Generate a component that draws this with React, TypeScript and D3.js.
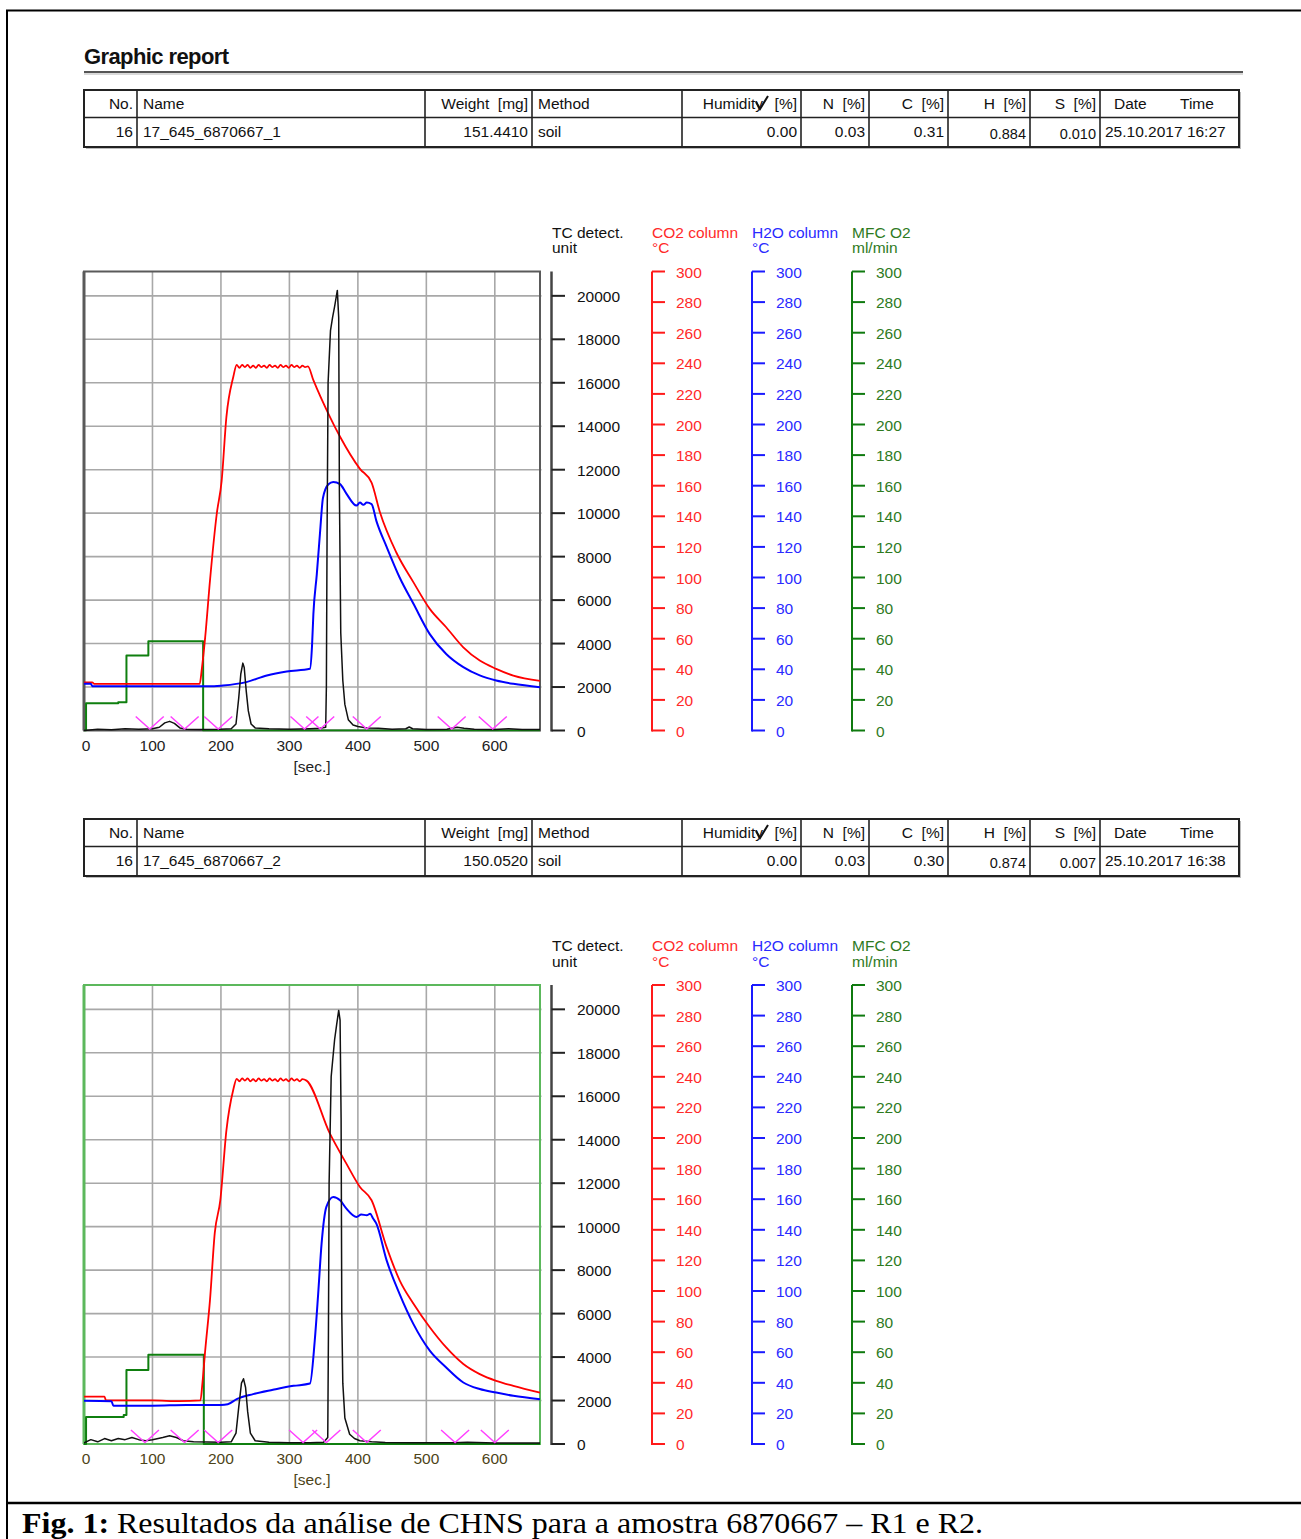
import React from "react";
import * as d3 from "d3";

type Pt = [number, number];

// ---------- axis tick labels ----------
const TIME_TICKS = [0, 100, 200, 300, 400, 500, 600];
const TC_TICKS = [0, 2000, 4000, 6000, 8000, 10000, 12000, 14000, 16000, 18000, 20000];
const TEMP_TICKS = [0, 20, 40, 60, 80, 100, 120, 140, 160, 180, 200, 220, 240, 260, 280, 300];

// ---------- table ----------
const TABLE_HEADERS = ["No.", "Name", "Weight [mg]", "Method", "Humidity", "N [%]", "C [%]", "H [%]", "S [%]", "Date"];
const RUN1_ROW = ["16", "17_645_6870667_1", "151.4410", "soil", "0.00", "0.03", "0.31", "0.884", "0.010", "25.10.2017 16:27"];
const RUN2_ROW = ["16", "17_645_6870667_2", "150.0520", "soil", "0.00", "0.03", "0.30", "0.874", "0.007", "25.10.2017 16:38"];

// ---------- run 1 series (time s, value) ----------
const RUN1_TC: Pt[] = [
  [0, 0], [20, 60], [40, 40], [60, 80], [80, 60], [100, 80], [110, 150], [118, 350], [125, 420], [132, 330], [140, 120],
  [150, 60], [170, 50], [200, 60], [215, 80], [222, 300], [226, 1500], [229, 2600], [232, 3100], [234, 2900], [237, 1800],
  [240, 900], [244, 300], [250, 120], [270, 80], [300, 60], [330, 80], [345, 100], [353, 150], [354, 2000], [355, 9000],
  [356.5, 16000], [360, 18400], [363, 19000], [366, 19500], [370, 20250], [372, 19000], [373, 11000], [375, 4500],
  [378, 2300], [381, 1200], [386, 500], [393, 250], [400, 180], [413, 120], [430, 100], [450, 60], [470, 80], [475, 160],
  [480, 80], [500, 50], [530, 60], [545, 150], [555, 100], [570, 60], [600, 50], [620, 80], [640, 50], [666, 50],
];
const RUN1_CO2: Pt[] = [
  [0, 31.5], [12, 31.5], [15, 30.5], [60, 30.5], [120, 30.5], [169, 30.5], [172, 40], [177, 61], [184, 98], [194, 142],
  [201, 163], [208, 205], [218, 231], [223, 239], [227, 237], [231, 239], [235, 237.5], [239, 239], [243, 237], [247, 238.5],
  [251, 237], [255, 239], [259, 237.5], [263, 238.5], [267, 237], [271, 239], [275, 237.5], [279, 238.5], [283, 237],
  [287, 239], [291, 237.5], [295, 238.5], [299, 237], [303, 239], [307, 237.5], [311, 238.5], [315, 237], [319, 238.5],
  [323, 237.5], [327, 238], [335, 229], [357, 207], [374, 192], [403, 171], [420, 162], [432, 143], [456, 116.5],
  [481, 97], [505, 79.5], [529, 67.5], [554, 54.4], [578, 45.7], [602, 40.3], [627, 35.9], [666, 32.5],
];
const RUN1_H2O: Pt[] = [
  [0, 30.5], [10, 30.5], [12, 29], [100, 29], [190, 29], [203, 29.4], [237, 31.6], [267, 36], [296, 38.6], [330, 40.3],
  [333, 55], [335, 76], [340, 102], [345, 131], [349, 152], [357, 161], [364, 162.5], [374, 161], [383, 155], [398, 147],
  [403, 149], [408, 147.5], [413, 149], [420, 148], [427, 137], [442, 120], [461, 100], [481, 83], [505, 63], [529, 50],
  [554, 41.4], [578, 36], [602, 32.7], [627, 30.5], [666, 28.3],
];
const RUN1_MFC: Pt[] = [
  [0, 0], [3, 0], [3, 17.8], [50, 17.8], [50, 18.5], [62, 18.5], [62, 49], [94, 49], [94, 58.4], [174, 58.4], [174, 0], [666, 0],
];
const RUN1_MARKS = [96, 147, 196, 322, 345, 413, 537, 597];

// ---------- run 2 series ----------
const RUN2_TC: Pt[] = [
  [0, 50], [10, 200], [20, 100], [30, 250], [40, 150], [50, 250], [60, 200], [70, 300], [80, 200], [90, 150], [100, 200],
  [115, 300], [125, 380], [135, 300], [145, 150], [160, 100], [200, 80], [215, 100], [222, 500], [226, 1700], [230, 2800],
  [233, 3000], [236, 2600], [239, 1500], [243, 500], [250, 150], [270, 80], [300, 60], [330, 60], [350, 80], [356, 300],
  [357, 5000], [358, 12000], [361, 16900], [366, 18600], [369, 19300], [372, 19950], [374, 19500], [375.5, 15000],
  [376.5, 6000], [378, 2800], [381, 1200], [388, 450], [395, 250], [403, 150], [420, 100], [440, 70], [480, 60],
  [540, 60], [560, 80], [600, 50], [666, 50],
];
const RUN2_CO2: Pt[] = [
  [0, 31], [30, 31], [32, 28.5], [60, 28.5], [100, 28.5], [140, 28], [170, 28.5], [173, 40], [177, 61], [184, 94],
  [191, 138], [199, 159], [208, 205], [218, 231.5], [223, 238.7], [227, 237], [231, 239], [235, 237.5], [239, 239],
  [243, 237], [247, 238.5], [251, 237], [255, 239], [259, 237.5], [263, 238.5], [267, 237], [271, 239], [275, 237.5],
  [279, 238.5], [283, 237], [287, 239], [291, 237.5], [295, 238.5], [299, 237], [303, 239], [307, 237.5], [311, 238.5],
  [315, 237], [319, 238.5], [325, 237.5], [359, 203], [383, 183.4], [403, 168], [420, 159.3], [442, 128.7], [461, 107],
  [481, 91.8], [505, 76.3], [529, 63.1], [554, 52.3], [578, 45.7], [602, 41.3], [627, 38], [666, 33.6],
];
const RUN2_H2O: Pt[] = [
  [0, 28.2], [40, 28], [43, 25], [100, 25], [150, 25.5], [200, 25.5], [210, 26], [223, 29.3], [247, 32.6], [276, 35.4],
  [306, 38], [330, 39.5], [337, 67.5], [342, 98], [347, 131], [354, 155], [364, 161.5], [374, 159.3], [383, 154],
  [398, 148.4], [405, 150], [413, 149.5], [418, 150.5], [422, 147.5], [427, 144], [442, 120], [461, 98], [481, 78.5],
  [505, 61], [529, 50], [554, 40.2], [578, 35.9], [602, 33.6], [627, 31.5], [666, 29.3],
];
const RUN2_MFC: Pt[] = [
  [0, 0], [3, 0], [3, 17.7], [58, 17.7], [58, 19], [62, 19], [62, 48.3], [94, 48.3], [94, 58.4], [175, 58.4], [175, 0], [666, 0],
];
const RUN2_MARKS = [89, 147, 196, 320, 354, 413, 542, 600];

const SANS = "'Liberation Sans', Arial, sans-serif";

const COLS = [84, 137, 425, 532, 682, 801, 869, 948, 1030, 1100, 1239];
const ALIGN = ["end", "start", "end", "start", "end", "end", "end", "end", "end", "start"];

function Table({ y0, row }: { y0: number; row: string[] }) {
  const top = y0, mid = y0 + 27.5, bot = y0 + 57;
  const tx = (i: number) => (ALIGN[i] === "end" ? COLS[i + 1] - 4 : COLS[i] + 6);
  return (
    <g fontFamily={SANS} fontSize={15.5} fill="#111">
      <rect x={COLS[0] + 2} y={top + 2} width={COLS[10] - COLS[0]} height={bot - top} fill="#bbb" />
      <rect x={COLS[0]} y={top} width={COLS[10] - COLS[0]} height={bot - top} fill="#fff" stroke="#222" strokeWidth={2} />
      <line x1={COLS[0]} x2={COLS[10]} y1={mid} y2={mid} stroke="#222" strokeWidth={1.6} />
      {COLS.slice(1, 10).map((c, i) => (
        <line key={i} x1={c} x2={c} y1={top} y2={bot} stroke="#222" strokeWidth={1.6} />
      ))}
      {TABLE_HEADERS.map((h, i) =>
        i === 4 ? (
          <g key={i}>
            <text x={763} y={top + 19} textAnchor="end">{h}</text>
            <path d={`M756,${top + 12} L760,${top + 19} L768,${top + 6}`} fill="none" stroke="#111" strokeWidth={2} />
            <text x={tx(i)} y={top + 19} textAnchor="end">[%]</text>
          </g>
        ) : i === 9 ? (
          <g key={i}>
            <text x={1114} y={top + 19}>Date</text>
            <text x={1180} y={top + 19}>Time</text>
          </g>
        ) : (
          <text key={i} x={tx(i)} y={top + 19} textAnchor={ALIGN[i] as any} style={{ whiteSpace: "pre" }}>
            {h.replace(" [", "  [")}
          </text>
        )
      )}
      {row.map((v, i) => (
        <text key={i} x={i === 9 ? COLS[9] + 5 : tx(i)} y={mid + (i === 7 || i === 8 ? 21 : 19.5)}
          textAnchor={i === 9 ? "start" : (ALIGN[i] as any)} fontSize={i === 7 || i === 8 ? 14.5 : 15.5}>
          {v}
        </text>
      ))}
    </g>
  );
}

type ChartProps = {
  dy: number; tc: Pt[]; co2: Pt[]; h2o: Pt[]; mfc: Pt[]; marks: number[];
  border: string; xLabelColor: string; id: string;
};

function Chart({ dy, tc, co2, h2o, mfc, marks, border, xLabelColor, id }: ChartProps) {
  const left = 84, right = 540, top = 271.5 + dy, bottom = 730.5 + dy;
  const x = d3.scaleLinear().domain([0, 666]).range([left, right]);
  const yTC = d3.scaleLinear().domain([0, 21120]).range([bottom, top]);
  const yT = d3.scaleLinear().domain([0, 300]).range([bottom, top]);
  const lineTC = d3.line<Pt>().x((d) => x(d[0])).y((d) => yTC(d[1]));
  const lineStep = d3.line<Pt>().x((d) => x(d[0])).y((d) => yT(d[1]));
  const lineT = d3.line<Pt>().x((d) => x(d[0])).y((d) => yT(d[1])).curve(d3.curveMonotoneX);

  const tempAxes = [
    { x0: 652, color: "#ff1a1a", text: "#ff2a2a", t1: "CO2 column", t2: "°C" },
    { x0: 752, color: "#1a1aff", text: "#2a2aff", t1: "H2O column", t2: "°C" },
    { x0: 852, color: "#0f7a0f", text: "#2e7a1e", t1: "MFC O2", t2: "ml/min" },
  ];

  return (
    <g>
      <defs>
        <clipPath id={id}>
          <rect x={left} y={top - 2} width={right - left + 1} height={bottom - top + 3} />
        </clipPath>
      </defs>
      <rect x={left} y={top} width={right - left} height={bottom - top} fill="#fff" />
      {/* grid */}
      {TIME_TICKS.slice(1).map((t) => (
        <line key={"v" + t} x1={x(t)} x2={x(t)} y1={top} y2={bottom} stroke="#a8a8a8" strokeWidth={1.6} />
      ))}
      {TC_TICKS.slice(1).map((t) => (
        <line key={"h" + t} x1={left} x2={right + 1.5} y1={yTC(t)} y2={yTC(t)} stroke="#a8a8a8" strokeWidth={1.6} />
      ))}
      <rect x={left} y={top} width={right - left} height={bottom - top} fill="none" stroke={border} strokeWidth={2} />
      <line x1={left} x2={left} y1={top} y2={bottom} stroke={border} strokeWidth={3} />
      <g clipPath={`url(#${id})`} fill="none" strokeLinejoin="round">
        <path d={lineStep(mfc) || ""} stroke="#0f7f0f" strokeWidth={2} />
        <path d={lineT(co2) || ""} stroke="#ff0000" strokeWidth={1.8} />
        <path d={lineT(h2o) || ""} stroke="#0000ff" strokeWidth={2} />
        <path d={lineTC(tc) || ""} stroke="#111" strokeWidth={1.5} />
      </g>
      {marks.map((m, i) => (
        <path key={i} d={`M${x(m) - 14},${bottom - 14}L${x(m)},${bottom - 1.5}L${x(m) + 14},${bottom - 14}`}
          fill="none" stroke="#ff40ff" strokeWidth={1.5} />
      ))}
      {/* x axis labels */}
      <g fontFamily={SANS} fontSize={15.5} fill={xLabelColor} textAnchor="middle">
        {TIME_TICKS.map((t) => (
          <text key={t} x={t === 0 ? x(t) + 2 : x(t)} y={bottom + 20}>{t}</text>
        ))}
        <text x={(left + right) / 2} y={bottom + 41}>[sec.]</text>
      </g>
      {/* TC axis */}
      <g fontFamily={SANS} fontSize={15.5}>
        <line x1={551.5} x2={551.5} y1={top} y2={bottom + 1} stroke="#444" strokeWidth={2.5} />
        {TC_TICKS.map((t) => (
          <g key={t}>
            <line x1={551.5} x2={565} y1={yTC(t)} y2={yTC(t)} stroke="#222" strokeWidth={2} />
            <text x={577} y={yTC(t) + 6} fill="#111">{t}</text>
          </g>
        ))}
        <text x={552} y={dy + 237.5} fill="#111">TC detect.</text>
        <text x={552} y={dy + 253} fill="#111">unit</text>
      </g>
      {tempAxes.map((a) => (
        <g key={a.x0} fontFamily={SANS} fontSize={15.5}>
          <line x1={a.x0} x2={a.x0} y1={yT(300)} y2={yT(0) + 1} stroke={a.color} strokeWidth={2} />
          {TEMP_TICKS.map((t) => (
            <g key={t}>
              <line x1={a.x0} x2={a.x0 + 13} y1={yT(t)} y2={yT(t)} stroke={a.color} strokeWidth={2} />
              <text x={a.x0 + 24} y={yT(t) + 6} fill={a.text}>{t}</text>
            </g>
          ))}
          <text x={a.x0} y={dy + 237.5} fill={a.text}>{a.t1}</text>
          <text x={a.x0} y={dy + 253} fill={a.text}>{a.t2}</text>
        </g>
      ))}
    </g>
  );
}

export default function App() {
  return (
    <div style={{ position: "absolute", left: 0, top: 0 }}>
      <svg width={1301} height={1539} style={{ display: "block", background: "#fff" }}>
        <rect x={0} y={0} width={1301} height={1539} fill="#fff" />
        {/* frame */}
        <line x1={6} x2={1301} y1={10.5} y2={10.5} stroke="#000" strokeWidth={2} />
        <line x1={7} x2={7} y1={10} y2={1539} stroke="#000" strokeWidth={2} />
        <line x1={6} x2={1301} y1={1503} y2={1503} stroke="#000" strokeWidth={2.5} />
        {/* title */}
        <text x={84} y={64} fontFamily={SANS} fontWeight="bold" fontSize={22} letterSpacing={-0.6} fill="#111">
          Graphic report
        </text>
        <line x1={84} x2={1243} y1={72} y2={72} stroke="#555" strokeWidth={2} />
        <line x1={84} x2={1243} y1={74} y2={74} stroke="#ccc" strokeWidth={1.5} />

        <Table y0={90} row={RUN1_ROW} />
        <Chart id="c1" dy={0} tc={RUN1_TC} co2={RUN1_CO2} h2o={RUN1_H2O} mfc={RUN1_MFC} marks={RUN1_MARKS}
          border="#5a5a5a" xLabelColor="#222" />
        <Table y0={819} row={RUN2_ROW} />
        <Chart id="c2" dy={713.5} tc={RUN2_TC} co2={RUN2_CO2} h2o={RUN2_H2O} mfc={RUN2_MFC} marks={RUN2_MARKS}
          border="#5cb85c" xLabelColor="#4d4418" />

        <text x={22} y={1533} fontFamily="'Liberation Serif', 'Times New Roman', serif" fontSize={30} fill="#000"
          textLength={961} lengthAdjust="spacingAndGlyphs">
          <tspan fontWeight="bold">Fig. 1:</tspan>
          <tspan> Resultados da análise de CHNS para a amostra 6870667 – R1 e R2.</tspan>
        </text>
      </svg>
    </div>
  );
}
